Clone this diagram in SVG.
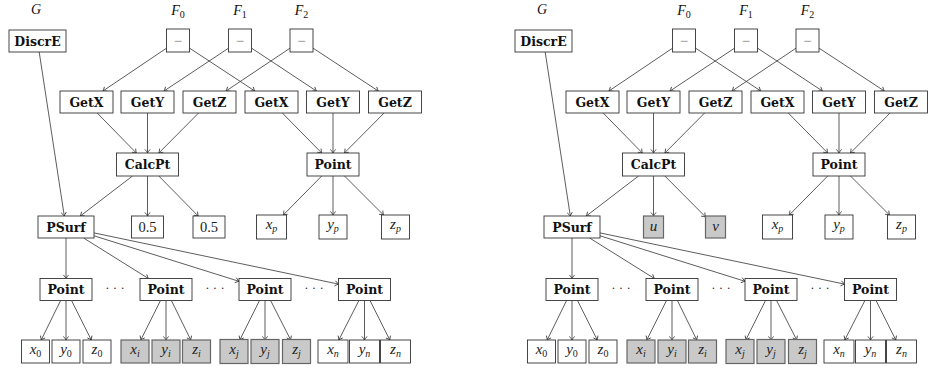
<svg xmlns="http://www.w3.org/2000/svg" width="932" height="369" viewBox="0 0 932 369">
<style>
rect{fill:#fff;stroke:#333;stroke-width:0.9}
rect.g{fill:#c9c9c9;stroke:#666;stroke-width:1.2}
.b{font-family:"DejaVu Serif",serif;font-weight:bold;font-size:12.5px;text-anchor:middle;fill:#111}
.m{font-family:"Liberation Serif","Times New Roman",serif;font-style:italic;font-size:15px;text-anchor:middle;fill:#222}
.n{font-family:"Liberation Serif","Times New Roman",serif;font-size:14.5px;text-anchor:middle;fill:#222}
.t{font-family:"Liberation Serif","Times New Roman",serif;font-style:italic;font-size:14px;text-anchor:middle;fill:#111}
.minus{font-family:"Liberation Serif","Times New Roman",serif;font-size:15px;text-anchor:middle;fill:#888}
.dots{font-family:"Liberation Serif","Times New Roman",serif;font-size:13px;text-anchor:middle;fill:#333}
.s{font-size:10px;font-style:normal}
.si{font-size:10px;font-style:italic}
.e line{stroke:#333;stroke-width:0.8;marker-end:url(#ah)}
</style>
<defs>
<marker id="ah" markerUnits="userSpaceOnUse" markerWidth="10" markerHeight="10" viewBox="-5 -5 10 10" refX="0" refY="0" orient="auto">
<path d="M-3.6,-2.6 Q-1.2,-0.6 0,0 Q-1.2,0.6 -3.6,2.6" fill="none" stroke="#333" stroke-width="0.8"/>
</marker>
</defs>

<!-- LEFT DIAGRAM -->
<g id="left">
<g id="L-labels">
<text class="t" x="36" y="14">G</text>
<text class="t" x="178" y="15">F<tspan class="s" dy="2.5">0</tspan></text>
<text class="t" x="240" y="15">F<tspan class="s" dy="2.5">1</tspan></text>
<text class="t" x="301.5" y="15">F<tspan class="s" dy="2.5">2</tspan></text>
</g>
<g id="L-connectors" class="e">
<line x1="166.5" y1="48.2" x2="102.9" y2="91"/>
<line x1="189.5" y1="48.1" x2="254.8" y2="91"/>
<line x1="228.5" y1="48.2" x2="164" y2="91"/>
<line x1="251.5" y1="48.1" x2="316.4" y2="91"/>
<line x1="290" y1="48.2" x2="226" y2="91"/>
<line x1="313" y1="48.1" x2="378.3" y2="91"/>
<line x1="97.2" y1="113" x2="136.3" y2="153"/>
<line x1="147.5" y1="113" x2="147.5" y2="153"/>
<line x1="198.6" y1="113" x2="158.9" y2="153"/>
<line x1="282.3" y1="113" x2="321.7" y2="153"/>
<line x1="333" y1="113" x2="333" y2="153"/>
<line x1="384.1" y1="113" x2="344.4" y2="153"/>
<line x1="132.5" y1="176" x2="80.3" y2="216"/>
<line x1="147.5" y1="176" x2="147.5" y2="216"/>
<line x1="158.8" y1="176" x2="198.2" y2="216"/>
<line x1="321.7" y1="176" x2="283.3" y2="215"/>
<line x1="333" y1="176" x2="333" y2="215"/>
<line x1="344.5" y1="176" x2="383.5" y2="215"/>
<line x1="39.2" y1="52" x2="64.3" y2="216"/>
<line x1="66" y1="238" x2="66" y2="278.5"/>
<line x1="83.6" y1="238" x2="148.4" y2="278.5"/>
<line x1="94" y1="235.8" x2="239" y2="281.3"/>
<line x1="94" y1="232.9" x2="338.5" y2="284.1"/>
<line x1="60.6" y1="300.5" x2="41.2" y2="340"/>
<line x1="66" y1="300.5" x2="66" y2="340"/>
<line x1="71.5" y1="300.5" x2="91.3" y2="340"/>
<line x1="160.5" y1="300.5" x2="140.8" y2="340"/>
<line x1="166" y1="300.5" x2="166" y2="340"/>
<line x1="171.4" y1="300.5" x2="190.8" y2="340"/>
<line x1="259.5" y1="300.5" x2="239.8" y2="340"/>
<line x1="265" y1="300.5" x2="265" y2="340"/>
<line x1="270.6" y1="300.5" x2="290.7" y2="340"/>
<line x1="358.9" y1="300.5" x2="338.8" y2="340"/>
<line x1="364.5" y1="300.5" x2="364.5" y2="340"/>
<line x1="370" y1="300.5" x2="389.8" y2="340"/>
</g>
<g id="L-discre"><rect x="9" y="30" width="57" height="22"/><text class="b" x="37.5" y="45.5">DiscrE</text></g>
<g id="L-minus0"><rect x="166.5" y="29" width="23" height="23"/><text class="minus" x="178" y="45.5">−</text></g>
<g id="L-minus1"><rect x="228.5" y="29" width="23" height="23"/><text class="minus" x="240" y="45.5">−</text></g>
<g id="L-minus2"><rect x="290" y="29" width="23" height="23"/><text class="minus" x="301.5" y="45.5">−</text></g>
<g id="L-getx0"><rect x="60" y="91" width="53" height="22"/><text class="b" x="86.5" y="106.5">GetX</text></g>
<g id="L-gety0"><rect x="121" y="91" width="53" height="22"/><text class="b" x="147.5" y="106.5">GetY</text></g>
<g id="L-getz0"><rect x="183" y="91" width="53" height="22"/><text class="b" x="209.5" y="106.5">GetZ</text></g>
<g id="L-getx1"><rect x="245" y="91" width="53" height="22"/><text class="b" x="271.5" y="106.5">GetX</text></g>
<g id="L-gety1"><rect x="306.5" y="91" width="53" height="22"/><text class="b" x="333" y="106.5">GetY</text></g>
<g id="L-getz1"><rect x="368.5" y="91" width="53" height="22"/><text class="b" x="395" y="106.5">GetZ</text></g>
<g id="L-calcpt"><rect x="116.5" y="153" width="62" height="23"/><text class="b" x="147.5" y="169">CalcPt</text></g>
<g id="L-point"><rect x="307" y="153" width="52" height="23"/><text class="b" x="333" y="169">Point</text></g>
<g id="L-psurf"><rect x="38" y="216" width="56" height="22"/><text class="b" x="66" y="231.5">PSurf</text></g>
<g id="L-c05a"><rect x="131.5" y="216" width="32" height="22"/><text class="n" x="147.5" y="231.5">0.5</text></g>
<g id="L-c05b"><rect x="193" y="216" width="32" height="22"/><text class="n" x="209" y="231.5">0.5</text></g>
<g id="L-xp"><rect x="256.5" y="215" width="30" height="24"/><text class="m" x="271.5" y="229">x<tspan class="si" dy="3">p</tspan></text></g>
<g id="L-yp"><rect x="319" y="215" width="28" height="24"/><text class="m" x="333" y="229">y<tspan class="si" dy="3">p</tspan></text></g>
<g id="L-zp"><rect x="381.5" y="215" width="28" height="24"/><text class="m" x="395.5" y="229">z<tspan class="si" dy="3">p</tspan></text></g>
<g id="L-point0"><rect x="40" y="278.5" width="52" height="22"/><text class="b" x="66" y="294">Point</text></g>
<g id="L-pointi"><rect x="140" y="278.5" width="52" height="22"/><text class="b" x="166" y="294">Point</text></g>
<g id="L-pointj"><rect x="239" y="278.5" width="52" height="22"/><text class="b" x="265" y="294">Point</text></g>
<g id="L-pointn"><rect x="338.5" y="278.5" width="52" height="22"/><text class="b" x="364.5" y="294">Point</text></g>
<g id="L-dots"><text class="dots" x="115" y="292">· · ·</text><text class="dots" x="215" y="292">· · ·</text><text class="dots" x="314" y="292">· · ·</text></g>
<g id="L-x0"><rect x="21.5" y="340" width="28" height="23"/><text class="m" x="35.5" y="353.5">x<tspan class="s" dy="3">0</tspan></text></g>
<g id="L-y0"><rect x="52" y="340" width="28" height="23"/><text class="m" x="66" y="353.5">y<tspan class="s" dy="3">0</tspan></text></g>
<g id="L-z0"><rect x="83" y="340" width="28" height="23"/><text class="m" x="97" y="353.5">z<tspan class="s" dy="3">0</tspan></text></g>
<g id="L-xi"><rect class="g" x="121" y="340" width="28" height="23"/><text class="m" x="135" y="353.5">x<tspan class="si" dy="3">i</tspan></text></g>
<g id="L-yi"><rect class="g" x="152" y="340" width="28" height="23"/><text class="m" x="166" y="353.5">y<tspan class="si" dy="3">i</tspan></text></g>
<g id="L-zi"><rect class="g" x="182.5" y="340" width="28" height="23"/><text class="m" x="196.5" y="353.5">z<tspan class="si" dy="3">i</tspan></text></g>
<g id="L-xj"><rect class="g" x="220" y="339.5" width="28" height="24"/><text class="m" x="234" y="353.5">x<tspan class="si" dy="3">j</tspan></text></g>
<g id="L-yj"><rect class="g" x="251" y="339.5" width="28" height="24"/><text class="m" x="265" y="353.5">y<tspan class="si" dy="3">j</tspan></text></g>
<g id="L-zj"><rect class="g" x="282.5" y="339.5" width="28" height="24"/><text class="m" x="296.5" y="353.5">z<tspan class="si" dy="3">j</tspan></text></g>
<g id="L-xn"><rect x="318" y="340" width="30" height="23"/><text class="m" x="333" y="353.5">x<tspan class="si" dy="3">n</tspan></text></g>
<g id="L-yn"><rect x="349.5" y="340" width="30" height="23"/><text class="m" x="364.5" y="353.5">y<tspan class="si" dy="3">n</tspan></text></g>
<g id="L-zn"><rect x="380.5" y="340" width="30" height="23"/><text class="m" x="395.5" y="353.5">z<tspan class="si" dy="3">n</tspan></text></g>
</g>

<!-- RIGHT DIAGRAM -->
<g id="right" transform="translate(506,0)">
<g id="R-labels">
<text class="t" x="36" y="14">G</text>
<text class="t" x="178" y="15">F<tspan class="s" dy="2.5">0</tspan></text>
<text class="t" x="240" y="15">F<tspan class="s" dy="2.5">1</tspan></text>
<text class="t" x="301.5" y="15">F<tspan class="s" dy="2.5">2</tspan></text>
</g>
<g id="R-connectors" class="e">
<line x1="166.5" y1="48.2" x2="102.9" y2="91"/>
<line x1="189.5" y1="48.1" x2="254.8" y2="91"/>
<line x1="228.5" y1="48.2" x2="164" y2="91"/>
<line x1="251.5" y1="48.1" x2="316.4" y2="91"/>
<line x1="290" y1="48.2" x2="226" y2="91"/>
<line x1="313" y1="48.1" x2="378.3" y2="91"/>
<line x1="97.2" y1="113" x2="136.3" y2="153"/>
<line x1="147.5" y1="113" x2="147.5" y2="153"/>
<line x1="198.6" y1="113" x2="158.9" y2="153"/>
<line x1="282.3" y1="113" x2="321.7" y2="153"/>
<line x1="333" y1="113" x2="333" y2="153"/>
<line x1="384.1" y1="113" x2="344.4" y2="153"/>
<line x1="132.5" y1="176" x2="80.3" y2="216"/>
<line x1="147.5" y1="176" x2="147.5" y2="216"/>
<line x1="158.9" y1="176" x2="199.5" y2="216.9"/>
<line x1="321.7" y1="176" x2="283.3" y2="215"/>
<line x1="333" y1="176" x2="333" y2="215"/>
<line x1="344.5" y1="176" x2="383.5" y2="215"/>
<line x1="39.2" y1="52" x2="64.3" y2="216"/>
<line x1="66" y1="238" x2="66" y2="278.5"/>
<line x1="83.6" y1="238" x2="148.4" y2="278.5"/>
<line x1="94" y1="235.8" x2="239" y2="281.3"/>
<line x1="94" y1="232.9" x2="338.5" y2="284.1"/>
<line x1="60.6" y1="300.5" x2="41.2" y2="340"/>
<line x1="66" y1="300.5" x2="66" y2="340"/>
<line x1="71.5" y1="300.5" x2="91.3" y2="340"/>
<line x1="160.5" y1="300.5" x2="140.8" y2="340"/>
<line x1="166" y1="300.5" x2="166" y2="340"/>
<line x1="171.4" y1="300.5" x2="190.8" y2="340"/>
<line x1="259.5" y1="300.5" x2="239.8" y2="340"/>
<line x1="265" y1="300.5" x2="265" y2="340"/>
<line x1="270.6" y1="300.5" x2="290.7" y2="340"/>
<line x1="358.9" y1="300.5" x2="338.8" y2="340"/>
<line x1="364.5" y1="300.5" x2="364.5" y2="340"/>
<line x1="370" y1="300.5" x2="389.8" y2="340"/>
</g>
<g id="R-discre"><rect x="9" y="30" width="57" height="22"/><text class="b" x="37.5" y="45.5">DiscrE</text></g>
<g id="R-minus0"><rect x="166.5" y="29" width="23" height="23"/><text class="minus" x="178" y="45.5">−</text></g>
<g id="R-minus1"><rect x="228.5" y="29" width="23" height="23"/><text class="minus" x="240" y="45.5">−</text></g>
<g id="R-minus2"><rect x="290" y="29" width="23" height="23"/><text class="minus" x="301.5" y="45.5">−</text></g>
<g id="R-getx0"><rect x="60" y="91" width="53" height="22"/><text class="b" x="86.5" y="106.5">GetX</text></g>
<g id="R-gety0"><rect x="121" y="91" width="53" height="22"/><text class="b" x="147.5" y="106.5">GetY</text></g>
<g id="R-getz0"><rect x="183" y="91" width="53" height="22"/><text class="b" x="209.5" y="106.5">GetZ</text></g>
<g id="R-getx1"><rect x="245" y="91" width="53" height="22"/><text class="b" x="271.5" y="106.5">GetX</text></g>
<g id="R-gety1"><rect x="306.5" y="91" width="53" height="22"/><text class="b" x="333" y="106.5">GetY</text></g>
<g id="R-getz1"><rect x="368.5" y="91" width="53" height="22"/><text class="b" x="395" y="106.5">GetZ</text></g>
<g id="R-calcpt"><rect x="116.5" y="153" width="62" height="23"/><text class="b" x="147.5" y="169">CalcPt</text></g>
<g id="R-point"><rect x="307" y="153" width="52" height="23"/><text class="b" x="333" y="169">Point</text></g>
<g id="R-psurf"><rect x="38" y="216" width="56" height="22"/><text class="b" x="66" y="231.5">PSurf</text></g>
<g id="R-u"><rect class="g" x="137.5" y="216" width="20" height="22"/><text class="m" x="147.5" y="231">u</text></g>
<g id="R-v"><rect class="g" x="199.5" y="216" width="20" height="22"/><text class="m" x="209.5" y="231">v</text></g>
<g id="R-xp"><rect x="256.5" y="215" width="30" height="24"/><text class="m" x="271.5" y="229">x<tspan class="si" dy="3">p</tspan></text></g>
<g id="R-yp"><rect x="319" y="215" width="28" height="24"/><text class="m" x="333" y="229">y<tspan class="si" dy="3">p</tspan></text></g>
<g id="R-zp"><rect x="381.5" y="215" width="28" height="24"/><text class="m" x="395.5" y="229">z<tspan class="si" dy="3">p</tspan></text></g>
<g id="R-point0"><rect x="40" y="278.5" width="52" height="22"/><text class="b" x="66" y="294">Point</text></g>
<g id="R-pointi"><rect x="140" y="278.5" width="52" height="22"/><text class="b" x="166" y="294">Point</text></g>
<g id="R-pointj"><rect x="239" y="278.5" width="52" height="22"/><text class="b" x="265" y="294">Point</text></g>
<g id="R-pointn"><rect x="338.5" y="278.5" width="52" height="22"/><text class="b" x="364.5" y="294">Point</text></g>
<g id="R-dots"><text class="dots" x="115" y="292">· · ·</text><text class="dots" x="215" y="292">· · ·</text><text class="dots" x="314" y="292">· · ·</text></g>
<g id="R-x0"><rect x="21.5" y="340" width="28" height="23"/><text class="m" x="35.5" y="353.5">x<tspan class="s" dy="3">0</tspan></text></g>
<g id="R-y0"><rect x="52" y="340" width="28" height="23"/><text class="m" x="66" y="353.5">y<tspan class="s" dy="3">0</tspan></text></g>
<g id="R-z0"><rect x="83" y="340" width="28" height="23"/><text class="m" x="97" y="353.5">z<tspan class="s" dy="3">0</tspan></text></g>
<g id="R-xi"><rect class="g" x="121" y="340" width="28" height="23"/><text class="m" x="135" y="353.5">x<tspan class="si" dy="3">i</tspan></text></g>
<g id="R-yi"><rect class="g" x="152" y="340" width="28" height="23"/><text class="m" x="166" y="353.5">y<tspan class="si" dy="3">i</tspan></text></g>
<g id="R-zi"><rect class="g" x="182.5" y="340" width="28" height="23"/><text class="m" x="196.5" y="353.5">z<tspan class="si" dy="3">i</tspan></text></g>
<g id="R-xj"><rect class="g" x="220" y="339.5" width="28" height="24"/><text class="m" x="234" y="353.5">x<tspan class="si" dy="3">j</tspan></text></g>
<g id="R-yj"><rect class="g" x="251" y="339.5" width="28" height="24"/><text class="m" x="265" y="353.5">y<tspan class="si" dy="3">j</tspan></text></g>
<g id="R-zj"><rect class="g" x="282.5" y="339.5" width="28" height="24"/><text class="m" x="296.5" y="353.5">z<tspan class="si" dy="3">j</tspan></text></g>
<g id="R-xn"><rect x="318" y="340" width="30" height="23"/><text class="m" x="333" y="353.5">x<tspan class="si" dy="3">n</tspan></text></g>
<g id="R-yn"><rect x="349.5" y="340" width="30" height="23"/><text class="m" x="364.5" y="353.5">y<tspan class="si" dy="3">n</tspan></text></g>
<g id="R-zn"><rect x="380.5" y="340" width="30" height="23"/><text class="m" x="395.5" y="353.5">z<tspan class="si" dy="3">n</tspan></text></g>
</g>
</svg>
